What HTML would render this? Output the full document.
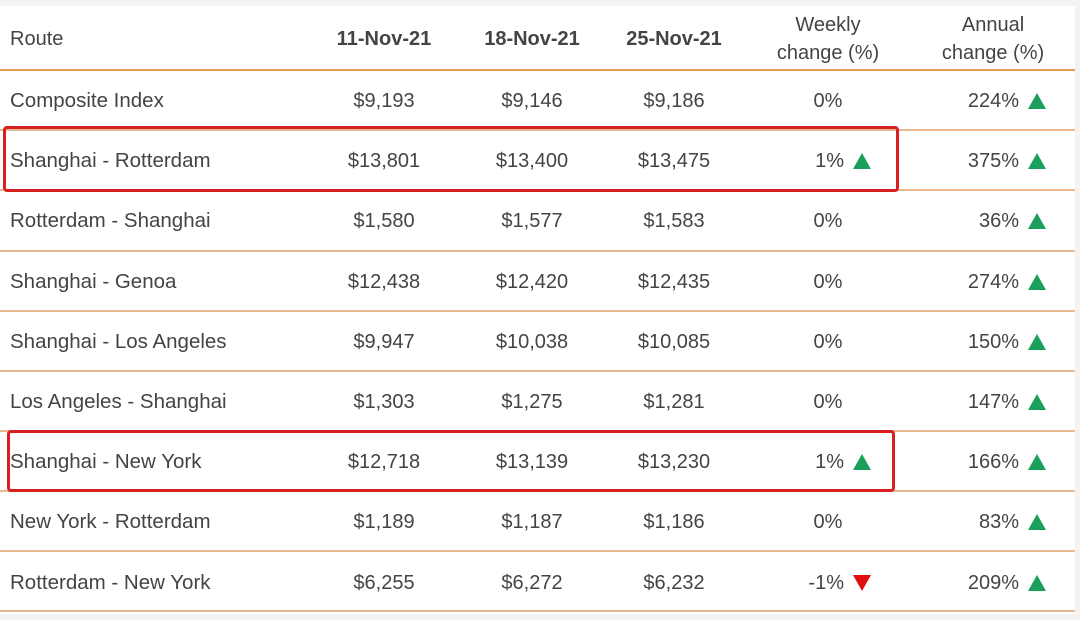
<!DOCTYPE html>
<html><head><style>
body{margin:0;width:1080px;height:620px;background:#fff;position:relative;overflow:hidden;font-family:"Liberation Sans",Arial,sans-serif;color:#444;font-size:20px}
.l{position:absolute;left:0;width:1075px;height:2px;background:#e8b98f}
.t{position:absolute;white-space:nowrap;line-height:24px}
.c{transform:translateX(-50%)}
.r{transform:translateX(-100%)}
.up{position:absolute;width:0;height:0;border-left:9px solid transparent;border-right:9px solid transparent;border-bottom:16px solid #1aa05a}
.dn{position:absolute;width:0;height:0;border-left:9px solid transparent;border-right:9px solid transparent;border-top:16px solid #e01010}
.box{position:absolute;border:3.5px solid #d92020;border-radius:4px}
.h{font-weight:bold;color:#444}
</style></head><body>
<div style="position:absolute;left:0;top:0;width:1080px;height:6px;background:#f3f3f3"></div>
<div style="position:absolute;left:1075px;top:0;width:5px;height:620px;background:#f3f3f3"></div>
<div style="position:absolute;left:0;top:614px;width:1080px;height:6px;background:#f3f3f3"></div>
<div class="l" style="top:69px;background:#e59a55"></div>
<div class="l" style="top:129px"></div><div class="l" style="top:189px"></div><div class="l" style="top:250px"></div><div class="l" style="top:310px"></div><div class="l" style="top:370px"></div><div class="l" style="top:430px"></div><div class="l" style="top:490px"></div><div class="l" style="top:550px"></div><div class="l" style="top:610px"></div>
<div class="t" style="left:10px;top:27px">Route</div>
<div class="t c h" style="left:384px;top:27px">11-Nov-21</div>
<div class="t c h" style="left:532px;top:27px">18-Nov-21</div>
<div class="t c h" style="left:674px;top:27px">25-Nov-21</div>
<div class="t c" style="left:828px;top:11px;text-align:center;line-height:28px">Weekly<br>change (%)</div>
<div class="t c" style="left:993px;top:11px;text-align:center;line-height:28px">Annual<br>change (%)</div>
<div id="rows"></div>
<div class="box" style="left:3px;top:126px;width:890px;height:60px"></div>
<div class="box" style="left:7px;top:430px;width:882px;height:56px"></div>
<script>
var d=[["Composite Index","$9,193","$9,146","$9,186","0%","224%",0],
["Shanghai - Rotterdam","$13,801","$13,400","$13,475","1%","375%",1],
["Rotterdam - Shanghai","$1,580","$1,577","$1,583","0%","36%",0],
["Shanghai - Genoa","$12,438","$12,420","$12,435","0%","274%",0],
["Shanghai - Los Angeles","$9,947","$10,038","$10,085","0%","150%",0],
["Los Angeles - Shanghai","$1,303","$1,275","$1,281","0%","147%",0],
["Shanghai - New York","$12,718","$13,139","$13,230","1%","166%",1],
["New York - Rotterdam","$1,189","$1,187","$1,186","0%","83%",0],
["Rotterdam - New York","$6,255","$6,272","$6,232","-1%","209%",-1]];
var h="";d.forEach(function(r,i){var y=89+i*60.2;
h+='<div class="t" style="left:10px;top:'+y+'px;font-size:20.5px">'+r[0]+'</div>';
h+='<div class="t c" style="left:384px;top:'+y+'px">'+r[1]+'</div>';
h+='<div class="t c" style="left:532px;top:'+y+'px">'+r[2]+'</div>';
h+='<div class="t c" style="left:674px;top:'+y+'px">'+r[3]+'</div>';
if(r[6]==0)h+='<div class="t c" style="left:828px;top:'+y+'px">'+r[4]+'</div>';
else{h+='<div class="t r" style="left:844px;top:'+y+'px">'+r[4]+'</div>';
h+='<div class="'+(r[6]>0?'up':'dn')+'" style="left:853px;top:'+(y+4)+'px"></div>';}
h+='<div class="t r" style="left:1019px;top:'+y+'px">'+r[5]+'</div>';
h+='<div class="up" style="left:1028px;top:'+(y+4)+'px"></div>';});
document.getElementById("rows").innerHTML=h;
</script>
</body></html>
